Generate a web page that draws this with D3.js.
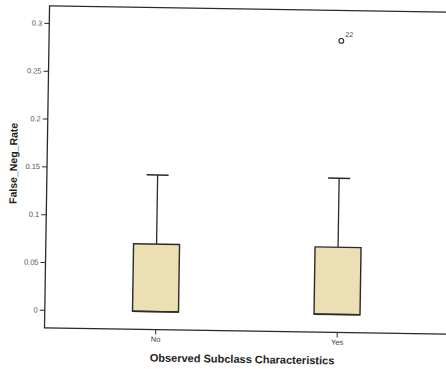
<!DOCTYPE html>
<html>
<head>
<meta charset="utf-8">
<script src="https://cdn.jsdelivr.net/npm/d3@7"></script>
<style>
  html, body { margin: 0; padding: 0; background: #fff; }
  svg { display: block; }
  text { font-family: "Liberation Sans", Arial, sans-serif; }
</style>
</head>
<body>
<svg id="chart" width="446" height="369"></svg>
<script>
// Box plot of False_Neg_Rate by observed subclass characteristics
const categories = ["No", "Yes"];
const lowerWhisker = [0, 0];
const q1Values = [0, 0];
const medianValues = [0, 0];
const q3Values = [0.0705, 0.0703];
const upperWhisker = [0.1428, 0.1424];
const outlierGroup = ["Yes"];
const outlierValue = [0.286];
const outlierLabel = ["22"];
const yTickValues = [0, 0.05, 0.1, 0.15, 0.2, 0.25, 0.3];
const yTickLabels = ["0", "0.05", "0.1", "0.15", "0.2", "0.25", "0.3"];

const svg = d3.select("#chart");
const frame = { left: 47, right: 450, top: 9, bottom: 331 };

// the page sits very slightly rotated
const g = svg.append("g").attr("transform", "rotate(0.9,245,170)");

const x = d3.scalePoint().domain(categories)
  .range([frame.left, frame.right]).padding(0.61);
const y = d3.scaleLinear().domain([0, 0.3]).range([313, 26]);

const ink = "#2a2a2a";

// plot frame
g.append("rect")
  .attr("x", frame.left).attr("y", frame.top)
  .attr("width", frame.right - frame.left).attr("height", frame.bottom - frame.top)
  .attr("fill", "none").attr("stroke", ink).attr("stroke-width", 1.3);

// y axis
const yAxis = d3.axisLeft(y).tickValues(yTickValues)
  .tickFormat((d, i) => yTickLabels[i]).tickSize(5).tickPadding(2);
const ya = g.append("g").attr("transform", `translate(${frame.left},0)`).call(yAxis);
ya.select(".domain").remove();
ya.selectAll("line").attr("stroke", ink);
ya.selectAll("text").attr("fill", "#555").attr("font-size", 7.5);

// x axis
const xAxis = d3.axisBottom(x).tickSize(5).tickPadding(2);
const xa = g.append("g").attr("transform", `translate(0,${frame.bottom})`).call(xAxis);
xa.select(".domain").remove();
xa.selectAll("line").attr("stroke", ink);
xa.selectAll("text").attr("fill", "#444").attr("font-size", 7.5);

const boxW = 46, capW = 22;
const data = categories.map((c, i) => ({
  c, lo: lowerWhisker[i], q1: q1Values[i], med: medianValues[i],
  q3: q3Values[i], hi: upperWhisker[i]
}));

const boxes = g.selectAll(".box").data(data).join("g").attr("class", "box");
boxes.append("line")
  .attr("x1", d => x(d.c)).attr("x2", d => x(d.c))
  .attr("y1", d => y(d.q3)).attr("y2", d => y(d.hi))
  .attr("stroke", ink).attr("stroke-width", 1.3);
boxes.append("line")
  .attr("x1", d => x(d.c) - capW / 2).attr("x2", d => x(d.c) + capW / 2)
  .attr("y1", d => y(d.hi)).attr("y2", d => y(d.hi))
  .attr("stroke", ink).attr("stroke-width", 1.5);
boxes.append("rect")
  .attr("x", d => x(d.c) - boxW / 2).attr("width", boxW)
  .attr("y", d => y(d.q3)).attr("height", d => y(d.q1) - y(d.q3))
  .attr("fill", "#ecdfb4").attr("stroke", ink).attr("stroke-width", 1.4);
boxes.append("line")
  .attr("x1", d => x(d.c) - boxW / 2).attr("x2", d => x(d.c) + boxW / 2)
  .attr("y1", d => y(d.med)).attr("y2", d => y(d.med))
  .attr("stroke", ink).attr("stroke-width", 1.6);

// outliers
const outs = outlierGroup.map((c, i) => ({ c, v: outlierValue[i], lab: outlierLabel[i] }));
g.selectAll(".out").data(outs).join("circle")
  .attr("cx", d => x(d.c)).attr("cy", d => y(d.v)).attr("r", 2.4)
  .attr("fill", "none").attr("stroke", ink).attr("stroke-width", 1.1);
g.selectAll(".outlab").data(outs).join("text")
  .attr("x", d => x(d.c) + 4).attr("y", d => y(d.v) - 4)
  .attr("font-size", 7).attr("fill", "#333").text(d => d.lab);

// axis titles
g.append("text")
  .attr("x", 245).attr("y", 363).attr("text-anchor", "middle")
  .attr("font-size", 11).attr("font-weight", "bold").attr("fill", "#222")
  .text("Observed Subclass Characteristics");
g.append("text")
  .attr("transform", "translate(17,167) rotate(-90)").attr("text-anchor", "middle")
  .attr("font-size", 10.5).attr("font-weight", "bold").attr("fill", "#222")
  .text("False_Neg_Rate");
</script>
</body>
</html>
